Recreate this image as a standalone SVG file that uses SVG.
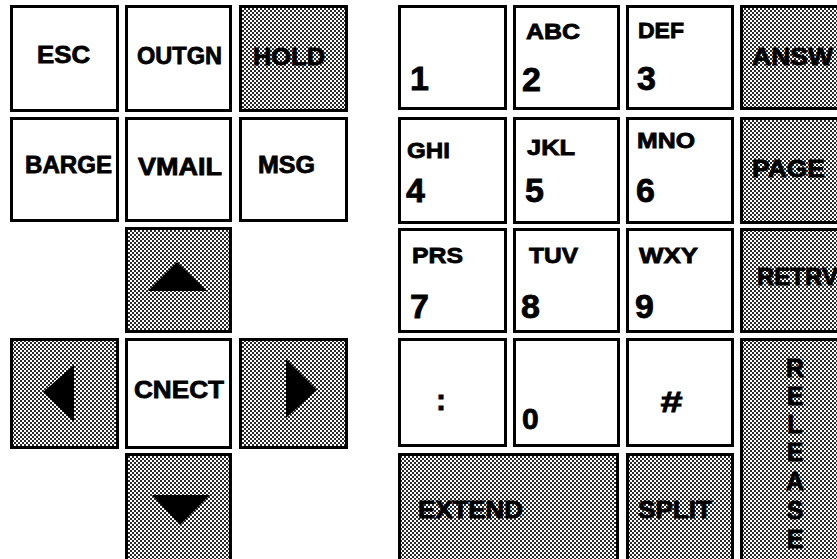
<svg xmlns="http://www.w3.org/2000/svg" width="837" height="559" viewBox="0 0 837 559">
<defs>
<pattern id="dots" width="4" height="4" patternUnits="userSpaceOnUse">
<rect width="4" height="4" fill="#ffffff"/>
<rect x="0" y="0" width="2" height="2" fill="#2a2a2a"/>
<rect x="2" y="2" width="2" height="2" fill="#2a2a2a"/>
</pattern>
</defs>
<style>
rect.k{fill:#fff;stroke:#000;stroke-width:3}
rect.s{fill:url(#dots);stroke:#000;stroke-width:3}
text{font-family:"Liberation Sans",Arial,Helvetica,sans-serif;font-weight:bold;fill:#000;stroke:#000;stroke-width:0.8px}
.l{font-size:24px}
.a{font-size:22px}
.d{font-size:34px}
.m{font-size:30px}
.r{font-size:25px;text-anchor:middle}
polygon{fill:#000}
</style>
<rect width="837" height="559" fill="#fff"/>
<g id="key-esc"><rect class="k" x="11.5" y="6.5" width="106" height="104"/><text class="l" x="37" y="63" textLength="53" lengthAdjust="spacingAndGlyphs">ESC</text></g>
<g id="key-outgn"><rect class="k" x="126.5" y="6.5" width="104" height="104"/><text class="l" x="137" y="64" textLength="85" lengthAdjust="spacingAndGlyphs">OUTGN</text></g>
<g id="key-hold"><rect class="s" x="240.5" y="6.5" width="106" height="104"/><text class="l" x="253" y="65" textLength="72" lengthAdjust="spacingAndGlyphs">HOLD</text></g>
<g id="key-barge"><rect class="k" x="11.5" y="118.5" width="106" height="102"/><text class="l" x="25" y="173" textLength="87" lengthAdjust="spacingAndGlyphs">BARGE</text></g>
<g id="key-vmail"><rect class="k" x="126.5" y="118.5" width="104" height="102"/><text class="l" x="138" y="175" textLength="84" lengthAdjust="spacingAndGlyphs">VMAIL</text></g>
<g id="key-msg"><rect class="k" x="240.5" y="118.5" width="106" height="102"/><text class="l" x="258" y="173" textLength="57" lengthAdjust="spacingAndGlyphs">MSG</text></g>
<g id="key-up"><rect class="s" x="126.5" y="228.5" width="104" height="103"/><polygon points="177,262 148,291 207,291"/></g>
<g id="key-left"><rect class="s" x="11.5" y="339.5" width="106" height="108"/><polygon points="43,392 74,365 74,422"/></g>
<g id="key-cnect"><rect class="k" x="126.5" y="339.5" width="104" height="108"/><text class="l" x="134" y="398" textLength="90" lengthAdjust="spacingAndGlyphs">CNECT</text></g>
<g id="key-right"><rect class="s" x="240.5" y="339.5" width="106" height="108"/><polygon points="286,359 286,418 317,390"/></g>
<g id="key-down"><rect class="s" x="126.5" y="454.5" width="104" height="112"/><polygon points="152,495 210,495 180,525"/></g>
<g id="key-1"><rect class="k" x="399.5" y="6.5" width="106" height="102"/><text class="d" x="410" y="90">1</text></g>
<g id="key-2"><rect class="k" x="514.5" y="6.5" width="104" height="102"/><text class="a" x="526" y="39" textLength="54" lengthAdjust="spacingAndGlyphs">ABC</text><text class="d" x="522" y="91">2</text></g>
<g id="key-3"><rect class="k" x="627.5" y="6.5" width="105" height="102"/><text class="a" x="638" y="38" textLength="46" lengthAdjust="spacingAndGlyphs">DEF</text><text class="d" x="637" y="90">3</text></g>
<g id="key-answ"><rect class="s" x="741.5" y="6.5" width="110" height="102"/><text class="l" x="752" y="65" textLength="81" lengthAdjust="spacingAndGlyphs">ANSW</text></g>
<g id="key-4"><rect class="k" x="399.5" y="118.5" width="106" height="104"/><text class="a" x="407" y="158" textLength="43" lengthAdjust="spacingAndGlyphs">GHI</text><text class="d" x="406" y="202">4</text></g>
<g id="key-5"><rect class="k" x="514.5" y="118.5" width="104" height="104"/><text class="a" x="527" y="155" textLength="48" lengthAdjust="spacingAndGlyphs">JKL</text><text class="d" x="525" y="202">5</text></g>
<g id="key-6"><rect class="k" x="627.5" y="118.5" width="105" height="104"/><text class="a" x="637" y="148" textLength="58" lengthAdjust="spacingAndGlyphs">MNO</text><text class="d" x="636" y="202">6</text></g>
<g id="key-page"><rect class="s" x="741.5" y="118.5" width="110" height="104"/><text class="l" x="752" y="177" textLength="73" lengthAdjust="spacingAndGlyphs">PAGE</text></g>
<g id="key-7"><rect class="k" x="399.5" y="229.5" width="106" height="102"/><text class="a" x="412" y="263" textLength="51" lengthAdjust="spacingAndGlyphs">PRS</text><text class="d" x="410" y="318">7</text></g>
<g id="key-8"><rect class="k" x="514.5" y="229.5" width="104" height="102"/><text class="a" x="529" y="263" textLength="49" lengthAdjust="spacingAndGlyphs">TUV</text><text class="d" x="521" y="318">8</text></g>
<g id="key-9"><rect class="k" x="627.5" y="229.5" width="105" height="102"/><text class="a" x="639" y="263" textLength="59" lengthAdjust="spacingAndGlyphs">WXY</text><text class="d" x="635" y="318">9</text></g>
<g id="key-retrv"><rect class="s" x="741.5" y="229.5" width="110" height="102"/><text class="l" x="757" y="285">RETRV</text></g>
<g id="key-colon"><rect class="k" x="399.5" y="339.5" width="106" height="106"/><text class="m" x="441" y="410" text-anchor="middle">:</text></g>
<g id="key-0"><rect class="k" x="514.5" y="339.5" width="104" height="106"/><text class="m" x="522" y="429">0</text></g>
<g id="key-hash"><rect class="k" x="627.5" y="339.5" width="105" height="106"/><text class="m" x="660" y="412" font-style="italic" textLength="22" lengthAdjust="spacingAndGlyphs">#</text></g>
<g id="key-release"><rect class="s" x="741.5" y="339.5" width="110" height="227"/>
<text class="r" x="795" y="377">R</text><text class="r" x="795" y="405">E</text><text class="r" x="795" y="433">L</text><text class="r" x="795" y="461">E</text><text class="r" x="795" y="490">A</text><text class="r" x="795" y="519">S</text><text class="r" x="795" y="548">E</text></g>
<g id="key-extend"><rect class="s" x="399.5" y="454.5" width="218" height="112"/><text class="l" x="418" y="518" textLength="105" lengthAdjust="spacingAndGlyphs">EXTEND</text></g>
<g id="key-split"><rect class="s" x="627.5" y="454.5" width="105" height="112"/><text class="l" x="638" y="518" textLength="74" lengthAdjust="spacingAndGlyphs">SPLIT</text></g>
<g id="connectors"/>
</svg>
